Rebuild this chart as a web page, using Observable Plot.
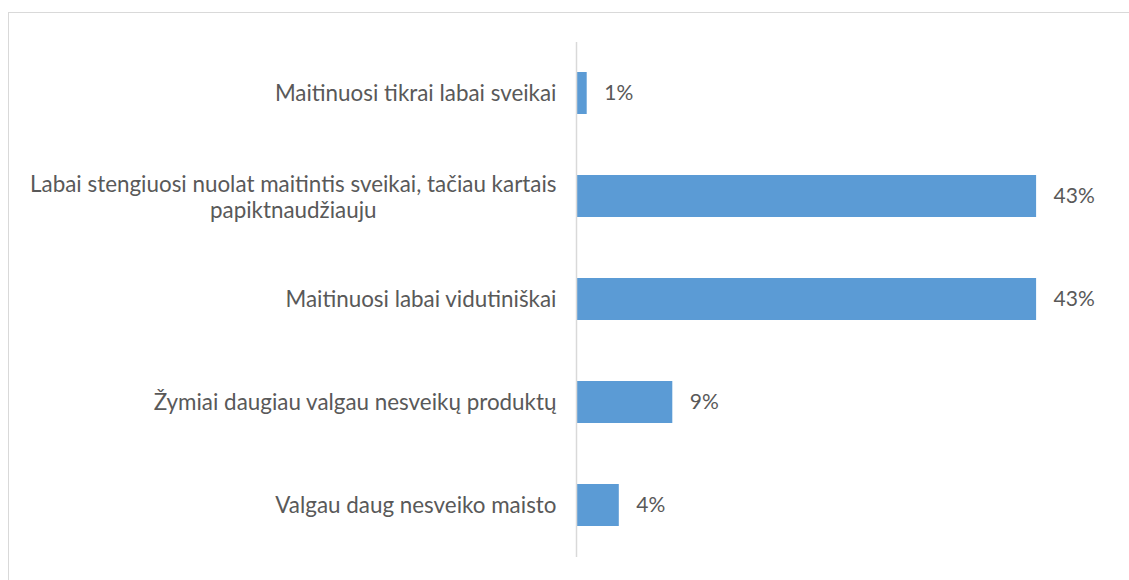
<!DOCTYPE html>
<html><head><meta charset="utf-8">
<script src="https://cdn.jsdelivr.net/npm/d3@7"></script>
<script src="https://cdn.jsdelivr.net/npm/@observablehq/plot@0.6"></script>
<style>
body{margin:0;background:#fff;}
#wrap{position:relative;width:1129px;height:580px;overflow:hidden;}
#frame{position:absolute;left:8px;top:12px;width:1300px;height:800px;border-left:1.5px solid #d9d9d9;border-top:1.5px solid #d9d9d9;pointer-events:none;}
#chart{position:absolute;left:0;top:0;}
</style></head><body>
<div id="wrap"><div id="frame"></div><div id="chart"></div></div>
<script>
const categories = [
  "Maitinuosi tikrai labai sveikai",
  "Labai stengiuosi nuolat maitintis sveikai, tačiau kartais\npapiktnaudžiauju",
  "Maitinuosi labai vidutiniškai",
  "Žymiai daugiau valgau nesveikų produktų",
  "Valgau daug nesveiko maisto"
];
const values = [1, 43, 43, 9, 4];
const valueLabels = ["1%", "43%", "43%", "9%", "4%"];

const rows = categories.map((c, i) => ({category: c, value: values[i], label: valueLabels[i]}));
const FONT = "Lato";
const FS = 22.4;
const VFS = 21;
const textColor = "#595959";

const ctx = document.createElement("canvas").getContext("2d");
ctx.font = `${FS}px ${FONT}`;
const maxLineWidth = s => Math.max(...s.split("\n").map(l => ctx.measureText(l).width));

const single = rows.filter(d => !d.category.includes("\n"));
const multi = rows.filter(d => d.category.includes("\n"));
const gap = 20;

const marks = [
  Plot.barX(rows, {x: "value", y: "category", fill: "#5B9BD5"}),
  Plot.ruleX([0], {stroke: "#d9d9d9", strokeWidth: 1.5}),
  Plot.text(rows, {x: "value", y: "category", text: "label", dx: 17, textAnchor: "start", fill: textColor, fontSize: VFS}),
  Plot.text(single, {x: 0, y: "category", text: "category", dx: -gap, textAnchor: "end", fill: textColor, fontSize: FS})
];
multi.forEach(d => {
  const w = maxLineWidth(d.category);
  marks.push(Plot.text([d], {x: 0, y: "category", text: "category", dx: -gap - w / 2, textAnchor: "middle", lineHeight: 1.17, fill: textColor, fontSize: FS}));
});

const chart = Plot.plot({
  width: 1129,
  height: 580,
  marginLeft: 576,
  marginRight: 18,
  marginTop: 42,
  marginBottom: 23,
  style: {fontFamily: FONT, background: "transparent"},
  x: {domain: [0, 50], axis: null},
  y: {domain: categories, paddingInner: 0.59, paddingOuter: 0.295, axis: null},
  marks
});
document.getElementById("chart").appendChild(chart);
</script>
</body></html>
